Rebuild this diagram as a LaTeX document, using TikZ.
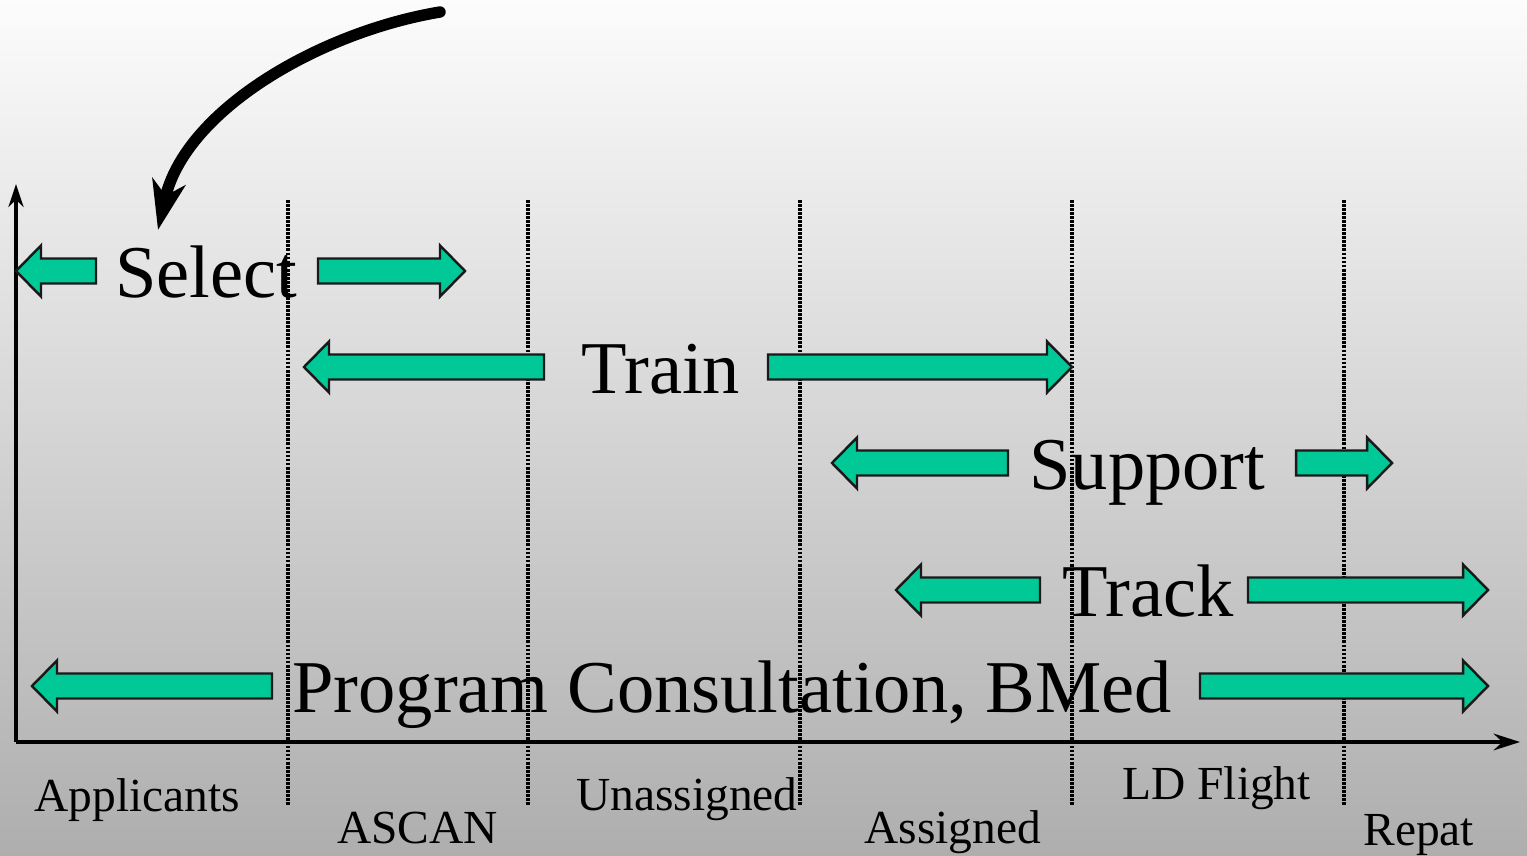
\documentclass[tikz,border=0pt]{standalone}
\usepackage{fontspec}
\setmainfont{Liberation Serif}
\usetikzlibrary{arrows.meta}
\definecolor{arrgreen}{RGB}{0,200,150}
\definecolor{bgtop}{RGB}{252,252,252}
\definecolor{bgbottom}{RGB}{174,174,174}
\newcommand\rarrow[3]{% tail x, tip x, centre y
  \draw[garrow] (#1,#3-12.5) -- (#2-25,#3-12.5) -- (#2-25,#3-25.5) -- (#2,#3)
    -- (#2-25,#3+25.5) -- (#2-25,#3+12.5) -- (#1,#3+12.5) -- cycle;}
\newcommand\larrow[3]{% tip x, tail x, centre y
  \draw[garrow] (#2,#3-12.5) -- (#1+25,#3-12.5) -- (#1+25,#3-25.5) -- (#1,#3)
    -- (#1+25,#3+25.5) -- (#1+25,#3+12.5) -- (#2,#3+12.5) -- cycle;}
\begin{document}
\begin{tikzpicture}[x=0.02cm,y=-0.02cm,
  garrow/.style={fill=arrgreen, draw=black!90, line width=1.4pt, line join=miter},
  bigtext/.style={anchor=base west, inner sep=0pt, font=\fontsize{42.4}{50}\selectfont},
  smalltext/.style={anchor=base west, inner sep=0pt, font=\fontsize{27}{32}\selectfont},
  phase/.style={line width=2pt, dash pattern=on 1.6pt off 0.7pt},
  axis/.style={line width=2.1pt}]
\shade[top color=bgtop, bottom color=bgbottom] (0,0) rectangle (1527,855);
\useasboundingbox (0,0) rectangle (1527,855);
% phase separators
\foreach \x/\n in {288/a,528/b,800/c,1072/d,1344/e}{
  \coordinate (t\n) at (\x,200);
  \coordinate (b\n) at (\x,806);
  \draw[phase] (t\n) -- (b\n);
}
% axes
\coordinate (origin) at (16,742);
\coordinate (ytop) at (16,184);
\coordinate (xend) at (1520,742);
\draw[axis,-{Stealth[length=13pt,width=8.5pt,inset=4pt]}] (origin) -- (ytop);
\draw[axis,-{Stealth[length=15pt,width=9.5pt,inset=5pt]}] (origin) -- (xend);
% green arrows
\larrow{16}{96}{271}
\rarrow{318}{465}{271}
\larrow{304}{544}{367}
\rarrow{768}{1072}{367}
\larrow{832}{1008}{463}
\rarrow{1296}{1392}{463}
\larrow{896}{1040}{590}
\rarrow{1248}{1488}{590}
\larrow{32}{272}{686}
\rarrow{1200}{1488}{686}
% big labels
\node[bigtext] (select) at (115,297) {Select};
\node[bigtext] (train) at (581,393) {Train};
\node[bigtext] (support) at (1029,489) {Support};
\node[bigtext] (track) at (1062,616) {Track};
\node[bigtext] (program) at (292,712) {Program Consultation, BMed};
% phase labels
\node[smalltext] (applicants) at (34,811) {Applicants};
\node[smalltext] (ascan) at (337,843) {ASCAN};
\node[smalltext] (unassigned) at (576,810) {Unassigned};
\node[smalltext] (assigned) at (864,843) {Assigned};
\node[smalltext] (ldflight) at (1122,799) {LD Flight};
\node[smalltext] (repat) at (1363,845) {Repat};
% curved pointer
\coordinate (cstart) at (440,12);
\coordinate (ctip) at (158,230);
\draw[line width=6.5pt, line cap=round, -{Stealth[length=28pt,width=19pt,inset=8pt]}]
  (cstart) .. controls (320,32) and (185,110) .. (ctip);
\end{tikzpicture}
\end{document}
